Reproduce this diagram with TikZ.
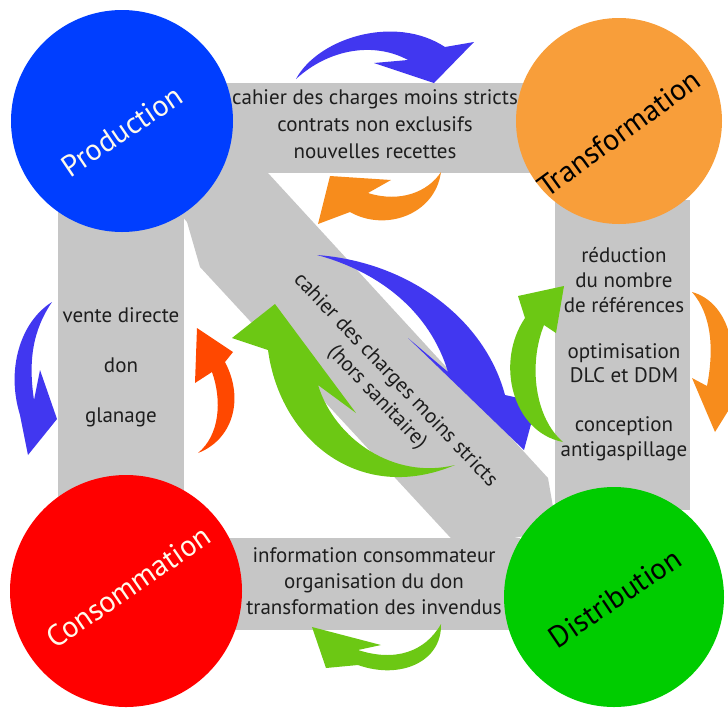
\documentclass[tikz,border=0pt]{standalone}
\usepackage{fontspec}
\setmainfont{PT Sans}
\definecolor{prodblue}{RGB}{0,62,255}
\definecolor{transorange}{RGB}{248,158,58}
\definecolor{consred}{RGB}{255,0,0}
\definecolor{distgreen}{RGB}{0,204,0}
\definecolor{bandgray}{RGB}{198,198,198}
\definecolor{arrblue}{RGB}{65,55,240}
\definecolor{arrorange}{RGB}{247,140,28}
\definecolor{arrred}{RGB}{255,72,0}
\definecolor{arrgreen}{RGB}{108,200,20}
\definecolor{txtcol}{RGB}{30,30,30}
\definecolor{lblwhite}{RGB}{255,250,235}
\begin{document}
\begin{tikzpicture}[x=1pt,y=-1pt,
  band/.style={fill=bandgray},
  bandtxt/.style={font=\fontsize{21}{27}\selectfont, text=txtcol, anchor=base, inner sep=0pt},
  circlbl/.style={font=\fontsize{30}{36}\selectfont, inner sep=0pt},
  disc/.style={circle, inner sep=0pt, minimum size=#1}]
\useasboundingbox (0,0) rectangle (728,713);
% bands
\fill[band] (215,83) rectangle (530,173);
\fill[band] (58,200) rectangle (184,500);
\fill[band] (555,200) rectangle (690,510);
\fill[band] (220,538) rectangle (520,630);
\fill[band] (150,168) -- (267,168) -- (268,173) -- (548,478) -- (557,530) -- (460,548) -- (200,267) -- (187,222) -- (160,190) -- cycle;
% circles
\node[disc=222pt, fill=prodblue] (prod) at (122,121) {};
\node[disc=206pt, fill=transorange] (trans) at (619,121) {};
\node[disc=232pt, fill=consred] (cons) at (126,591) {};
\node[disc=220pt, fill=distgreen] (dist) at (614,597) {};
% arrows
\fill[arrblue] (296,79) .. controls (318,38) and (395,14) .. (445,47) -- (474,42) -- (434,83) -- (374,63) -- (408,60) .. controls (375,42) and (330,48) .. (296,79) -- cycle;
\fill[arrorange] (441,172) .. controls (435,215) and (385,232) .. (350,212) -- (318,224) -- (330,176) -- (391,180) -- (368,193) .. controls (400,203) and (428,192) .. (441,172) -- cycle;
\fill[arrblue] (52,302) .. controls (20,322) and (6,370) .. (20,415) -- (28,455) -- (57,419) -- (40,370) -- (34,400) .. controls (28,360) and (33,330) .. (52,302) -- cycle;
\fill[arrred] (198,453) .. controls (232,440) and (245,400) .. (225,362) -- (233,352) -- (197,328) -- (195,383) -- (212,372) .. controls (222,400) and (220,435) .. (198,453) -- cycle;
\fill[arrgreen] (275,304) -- (232,338) -- (268,350) .. controls (280,440) and (360,505) .. (455,465) .. controls (395,480) and (335,440) .. (318,385) -- (356,413) -- cycle;
\fill[arrblue] (317,255) .. controls (410,262) and (485,320) .. (505,395) -- (537,402) -- (524,450) -- (408,338) -- (448,372) .. controls (430,312) and (380,272) .. (317,255) -- cycle;
\fill[arrgreen] (563,442) .. controls (512,432) and (495,362) .. (525,318) -- (518,296) -- (564,286) -- (556,333) -- (544,325) .. controls (528,365) and (535,418) .. (563,442) -- cycle;
\fill[arrorange] (692,292) .. controls (728,302) and (740,350) .. (728,388) -- (738,395) -- (715,432) -- (692,378) -- (707,386) .. controls (714,350) and (712,315) .. (692,292) -- cycle;
\fill[arrgreen] (441,624) .. controls (442,662) and (400,680) .. (358,665) -- (326,668) -- (312,627) -- (381,645) -- (358,650) .. controls (395,662) and (425,652) .. (441,624) -- cycle;
% circle labels
\node[circlbl, text=lblwhite, rotate=34] (prodlbl) at (122,131) {Production};
\node[circlbl, text=black, rotate=36] (translbl) at (619,133) {Transformation};
\node[circlbl, text=lblwhite, rotate=34.5] (conslbl) at (128,587) {Consommation};
\node[circlbl, text=black, rotate=34] (distlbl) at (615,598) {Distribution};
% top band
\node[bandtxt] (top1) at (375,104) {cahier des charges moins stricts};
\node[bandtxt] (top2) at (375,131) {contrats non exclusifs};
\node[bandtxt] (top3) at (375,158) {nouvelles recettes};
% left band
\node[bandtxt] (left1) at (121,322) {vente directe};
\node[bandtxt] (left2) at (121,372) {don};
\node[bandtxt] (left3) at (121,422) {glanage};
% right band
\node[bandtxt] (right1) at (624,262) {réduction};
\node[bandtxt] (right2) at (624,287) {du nombre};
\node[bandtxt] (right3) at (624,312) {de références};
\node[bandtxt] (right4) at (624,358) {optimisation};
\node[bandtxt] (right5) at (624,382) {DLC et DDM};
\node[bandtxt] (right6) at (624,431) {conception};
\node[bandtxt] (right7) at (624,456) {antigaspillage};
% bottom band
\node[bandtxt] (bot1) at (374,562) {information consommateur};
\node[bandtxt] (bot2) at (374,588) {organisation du don};
\node[bandtxt] (bot3) at (374,614) {transformation des invendus};
% diagonal band
\node[font=\fontsize{21}{25}\selectfont, text=txtcol, align=center, rotate=-46.5, inner sep=0pt] (diag) at (386,389) {cahier des charges moins stricts\\(hors sanitaire)};
\end{tikzpicture}
\end{document}
